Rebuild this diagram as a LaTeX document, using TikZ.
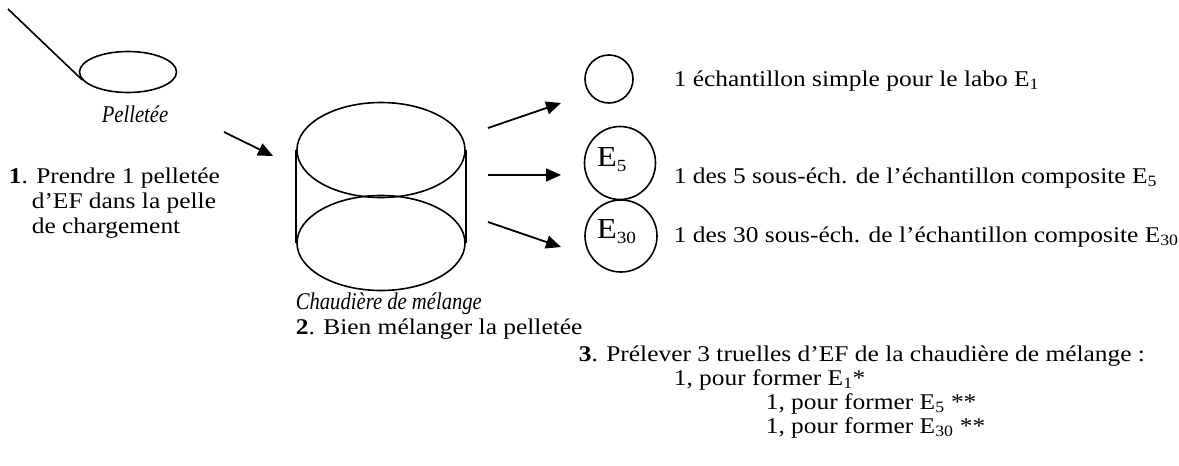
\documentclass[tikz,border=0pt]{standalone}
\usepackage{fontspec}
\setmainfont{Liberation Serif}[FakeStretch=1.13]
\newfontfamily\itfam{Liberation Serif}[FakeStretch=0.86]
\usetikzlibrary{arrows.meta,shapes.geometric}
\newcommand{\sbs}[1]{\textsubscript{#1}}
\begin{document}
\begin{tikzpicture}[x=1pt,y=-1pt,
  line width=1.6pt,
  arr/.style={-{Triangle[length=15pt,width=13pt]}, line width=1.8pt},
  txt/.style={anchor=base west, inner sep=0pt, font=\fontsize{22.5}{25}\selectfont},
  itxt/.style={inner sep=0pt, font=\fontsize{24}{26}\selectfont\itfam\itshape},
  circ/.style={draw, ellipse, inner sep=0pt, line width=1.6pt},
  lbl/.style={anchor=base west, inner sep=0pt, font=\fontsize{29}{29}\selectfont},
]
\useasboundingbox (0,0) rectangle (1179,466);

% shovel
\node[circ, minimum width=97pt, minimum height=41pt] (pel) at (128,72) {};
\coordinate (h) at (8,9);
\draw (h) -- (pel.190);
\node[itxt, anchor=base] (peltxt) at (135,122) {Pelletée};

% step 1 text
\node[txt] (s1a) at (8,183) {\textbf{1}. Prendre 1 pelletée};
\node[txt] (s1b) at (31,208) {d’EF dans la pelle};
\node[txt] (s1c) at (31,233) {de chargement};

% arrow into cylinder
\coordinate (a0s) at (224,132);
\coordinate (a0e) at (273,156);
\draw[arr] (a0s) -- (a0e);

% cylinder
\node[circ, minimum width=168pt, minimum height=95pt] (ctop) at (381,150) {};
\node[circ, minimum width=168pt, minimum height=95pt] (cbot) at (381,243) {};
\draw (ctop.west) -- (cbot.west);
\draw (ctop.east) -- (cbot.east);

\node[itxt, anchor=base west] (chtxt) at (295,309) {Chaudière de mélange};
\node[txt] (s2) at (295,334) {\textbf{2}. Bien mélanger la pelletée};

% arrows out
\coordinate (a1s) at (488,128);
\coordinate (a1e) at (561,103);
\coordinate (a2s) at (488,175);
\coordinate (a2e) at (561,175);
\coordinate (a3s) at (488,222);
\coordinate (a3e) at (561,247);
\draw[arr] (a1s) -- (a1e);
\draw[arr] (a2s) -- (a2e);
\draw[arr] (a3s) -- (a3e);

% sample circles
\node[circ, minimum width=48pt, minimum height=48pt] (c1) at (609,79) {};
\node[circ, minimum width=71pt, minimum height=73pt] (c5) at (620,163) {};
\node[circ, minimum width=72pt, minimum height=72pt] (c30) at (621,236) {};
\node[lbl] (l5) at (596,166) {E\raisebox{-5pt}{\fontsize{17}{17}\selectfont 5}};
\node[lbl] (l30) at (596,238) {E\raisebox{-5pt}{\fontsize{17}{17}\selectfont 30}};

% right texts
\node[txt] (t1) at (673,86) {1 échantillon simple pour le labo E\sbs{1}};
\node[txt] (t5) at (673,183) {1 des 5 sous-éch. de l’échantillon composite E\sbs{5}};
\node[txt] (t30) at (673,242) {1 des 30 sous-éch. de l’échantillon composite E\sbs{30}};

% step 3
\node[txt] (s3) at (578,361) {\textbf{3}. Prélever 3 truelles d’EF de la chaudière de mélange :};
\node[txt] (s3a) at (673,385) {1, pour former E\sbs{1}*};
\node[txt] (s3b) at (765,409) {1, pour former E\sbs{5} **};
\node[txt] (s3c) at (765,433) {1, pour former E\sbs{30} **};
\end{tikzpicture}
\end{document}
